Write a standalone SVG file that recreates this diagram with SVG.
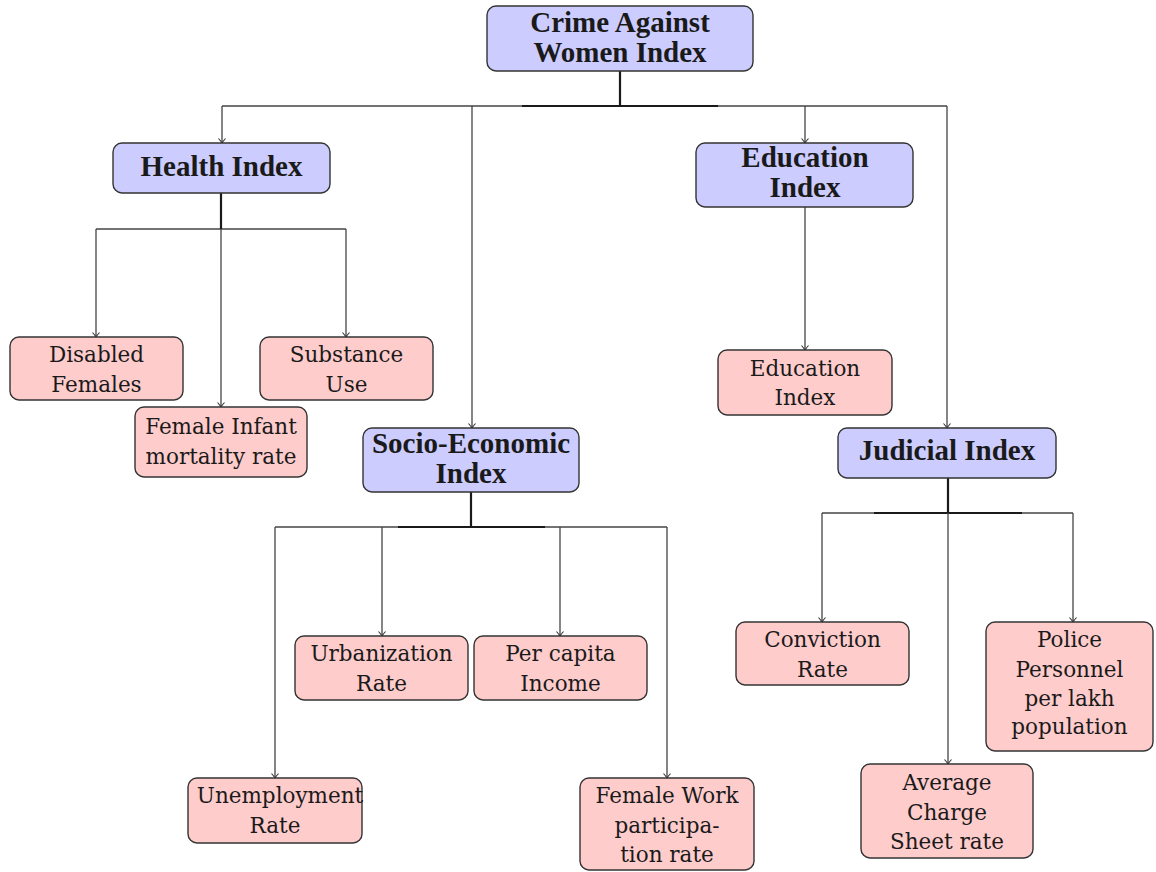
<svg xmlns="http://www.w3.org/2000/svg" width="1156" height="872" viewBox="0 0 1156 872">
<style>
.bg{fill:#ffffff}
.blue rect{fill:#ccccff;stroke:#333333;stroke-width:1.4}
.red rect{fill:#ffcccc;stroke:#333333;stroke-width:1.4}
.blue text{font-family:'Liberation Serif','DejaVu Serif',serif;font-weight:bold;font-size:29px;fill:#1a1a1a;text-anchor:middle}
.red text{font-family:'DejaVu Serif','Liberation Serif',serif;font-size:21.5px;fill:#1a1a1a;text-anchor:middle}
.thin{fill:none;stroke:#444444;stroke-width:1.3}
.thick{fill:none;stroke:#1a1a1a;stroke-width:2.2}
.arr{fill:none;stroke:#444444;stroke-width:1.3;marker-end:url(#ah)}
</style>
<defs>
<marker id="ah" markerUnits="userSpaceOnUse" viewBox="-6 -5 8 10" refX="0" refY="0" markerWidth="8" markerHeight="10" orient="auto">
<path d="M-4.5,-3.5 Q-1.5,-0.8 0,0 Q-1.5,0.8 -4.5,3.5" fill="none" stroke="#333333" stroke-width="1.1"/>
</marker>
</defs>
<rect class="bg" x="0" y="0" width="1156" height="872"/>
<g id="connectors">
<path class="thin" d="M222 106 H947"/>
<path class="thick" d="M620 71 V106 M522 106 H718"/>
<path class="arr" d="M222 106 V143"/>
<path class="arr" d="M472 106 V428"/>
<path class="arr" d="M805 106 V143"/>
<path class="arr" d="M947 106 V428"/>
<path class="thin" d="M96 229 H346"/>
<path class="thick" d="M221 193 V229"/>
<path class="arr" d="M96 229 V337"/>
<path class="arr" d="M346 229 V337"/>
<path class="arr" d="M221 229 V407"/>
<path class="arr" d="M805 207 V350"/>
<path class="thin" d="M275 527 H667"/>
<path class="thick" d="M471 492 V527 M398 527 H545"/>
<path class="arr" d="M275 527 V778"/>
<path class="arr" d="M382 527 V636"/>
<path class="arr" d="M560 527 V636"/>
<path class="arr" d="M667 527 V778"/>
<path class="thin" d="M822 513 H1073"/>
<path class="thick" d="M948 478 V513 M874 513 H1022"/>
<path class="arr" d="M822 513 V622"/>
<path class="arr" d="M1073 513 V622"/>
<path class="arr" d="M948 513 V764"/>
</g>
<g id="root" class="blue">
<rect x="487" y="6" width="266" height="65" rx="9"/>
<text x="620" y="32">Crime Against</text>
<text x="620" y="62">Women Index</text>
</g>
<g id="health" class="blue">
<rect x="113" y="143" width="217" height="50" rx="9"/>
<text x="221.5" y="176">Health Index</text>
</g>
<g id="education" class="blue">
<rect x="696" y="143" width="217" height="64" rx="9"/>
<text x="805" y="167">Education</text>
<text x="805" y="197">Index</text>
</g>
<g id="socio" class="blue">
<rect x="363" y="428" width="216" height="64" rx="9"/>
<text x="471" y="453">Socio-Economic</text>
<text x="471" y="483">Index</text>
</g>
<g id="judicial" class="blue">
<rect x="838" y="428" width="218" height="50" rx="9"/>
<text x="947" y="460">Judicial Index</text>
</g>
<g id="disabled" class="red">
<rect x="10" y="337" width="173" height="63" rx="9"/>
<text x="96.5" y="362">Disabled</text>
<text x="96.5" y="392">Females</text>
</g>
<g id="substance" class="red">
<rect x="260" y="337" width="173" height="63" rx="9"/>
<text x="346.5" y="362">Substance</text>
<text x="346.5" y="392">Use</text>
</g>
<g id="infant" class="red">
<rect x="135" y="407" width="172" height="70" rx="9"/>
<text x="221" y="434">Female Infant</text>
<text x="221" y="464">mortality rate</text>
</g>
<g id="eduindex" class="red">
<rect x="718" y="350" width="174" height="65" rx="9"/>
<text x="805" y="376">Education</text>
<text x="805" y="405">Index</text>
</g>
<g id="urban" class="red">
<rect x="295" y="636" width="173" height="64" rx="9"/>
<text x="381.5" y="661">Urbanization</text>
<text x="381.5" y="691">Rate</text>
</g>
<g id="percapita" class="red">
<rect x="474" y="636" width="173" height="64" rx="9"/>
<text x="560.5" y="661">Per capita</text>
<text x="560.5" y="691">Income</text>
</g>
<g id="unemployment" class="red">
<rect x="188" y="778" width="174" height="65" rx="9"/>
<text x="280" y="803">Unemployment</text>
<text x="275" y="833">Rate</text>
</g>
<g id="femalework" class="red">
<rect x="580" y="778" width="174" height="92" rx="9"/>
<text x="667" y="803">Female Work</text>
<text x="667" y="833">participa-</text>
<text x="667" y="862">tion rate</text>
</g>
<g id="conviction" class="red">
<rect x="736" y="622" width="173" height="63" rx="9"/>
<text x="822.5" y="647">Conviction</text>
<text x="822.5" y="677">Rate</text>
</g>
<g id="police" class="red">
<rect x="986" y="622" width="167" height="129" rx="9"/>
<text x="1069.5" y="647">Police</text>
<text x="1069.5" y="677">Personnel</text>
<text x="1069.5" y="706">per lakh</text>
<text x="1069.5" y="734">population</text>
</g>
<g id="average" class="red">
<rect x="861" y="764" width="172" height="94" rx="9"/>
<text x="947" y="790">Average</text>
<text x="947" y="820">Charge</text>
<text x="947" y="849">Sheet rate</text>
</g>
</svg>
